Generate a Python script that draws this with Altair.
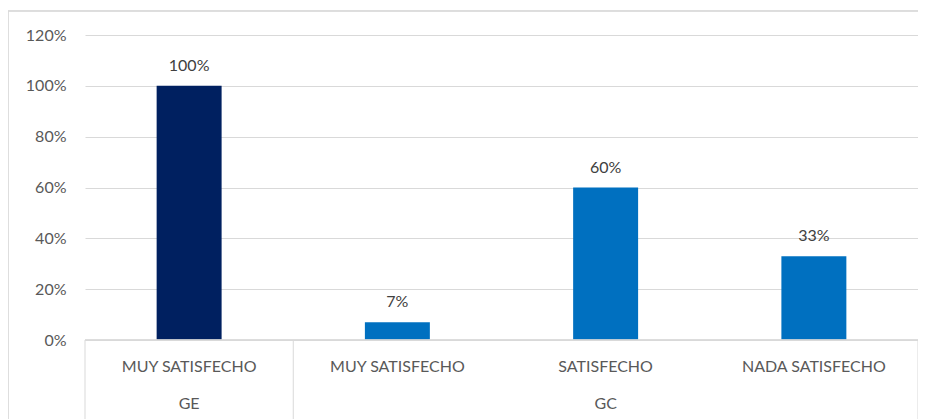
import altair as alt
import pandas as pd

groups = ["GE", "GC", "GC", "GC"]
categories = ["MUY SATISFECHO", "MUY SATISFECHO", "SATISFECHO", "NADA SATISFECHO"]
values = [1.00, 0.07, 0.60, 0.33]
keys = [g + "|" + c for g, c in zip(groups, categories)]
bar_colors = ["#002060", "#0070C0", "#0070C0", "#0070C0"]

group_labels = ["GE", "GC"]
group_keys = [keys[0], keys[2]]  # centre slot of each group

y_ticks = [0, 0.2, 0.4, 0.6, 0.8, 1.0, 1.2]

W, H = 833, 305
FONT = "Lato"
GRID = "#D9D9D9"

df = pd.DataFrame({"key": keys, "cat": categories, "group": groups,
                   "value": values, "color": bar_colors})
gdf = pd.DataFrame({"key": group_keys, "group": group_labels})

xscale = alt.Scale(domain=keys, paddingInner=0.688, paddingOuter=0.344)
yscale = alt.Scale(domain=[0, 1.2], nice=False)

base = alt.Chart(df)

bars = base.mark_bar().encode(
    x=alt.X("key:N", scale=xscale, axis=None, sort=keys),
    y=alt.Y("value:Q", scale=yscale,
            axis=alt.Axis(values=y_ticks, format=".0%", title=None,
                          domain=False, ticks=False, grid=True,
                          gridColor=GRID, gridWidth=1,
                          labelFont=FONT, labelFontSize=16,
                          labelColor="#595959", labelPadding=19)),
    color=alt.Color("color:N", scale=None, legend=None),
)

value_labels = base.mark_text(font=FONT, fontSize=16, color="#404040",
                              baseline="alphabetic", dy=-15).encode(
    x=alt.X("key:N", scale=xscale, sort=keys),
    y=alt.Y("value:Q", scale=yscale),
    text=alt.Text("value:Q", format=".0%"),
)

cat_labels = base.mark_text(font=FONT, fontSize=16, color="#595959",
                            baseline="alphabetic").encode(
    x=alt.X("key:N", scale=xscale, sort=keys),
    y=alt.value(H + 32),
    text="cat:N",
)

grp_labels = alt.Chart(gdf).mark_text(font=FONT, fontSize=16, color="#595959",
                                      baseline="alphabetic").encode(
    x=alt.X("key:N", scale=xscale, sort=keys),
    y=alt.value(H + 69),
    text="group:N",
)

step = W / len(keys)
sep_df = pd.DataFrame({"px": [0, step, W]})
separators = alt.Chart(sep_df).mark_rule(color=GRID, strokeWidth=1).encode(
    x=alt.X("px:Q", scale=None),
    y=alt.value(H),
    y2=alt.value(H + 90),
)

baseline_rule = alt.Chart(sep_df).mark_rule(color=GRID, strokeWidth=1).encode(
    x=alt.value(0), x2=alt.value(W), y=alt.value(H)
)

border = alt.Chart(sep_df).mark_rect(fill=None, stroke=GRID, strokeWidth=1).encode(
    x=alt.value(-77), x2=alt.value(W + 6), y=alt.value(-24), y2=alt.value(H + 100)
)

chart = alt.layer(border, bars, value_labels, baseline_rule, separators,
                  cat_labels, grp_labels).properties(
    width=W, height=H,
    background="white",
    autosize=alt.AutoSizeParams(type="none"),
    padding={"left": 77, "top": 27, "right": 0, "bottom": 79},
).configure_view(stroke="transparent", strokeWidth=0)

chart.save("out.html", embed_options={"renderer": "svg", "actions": False})
